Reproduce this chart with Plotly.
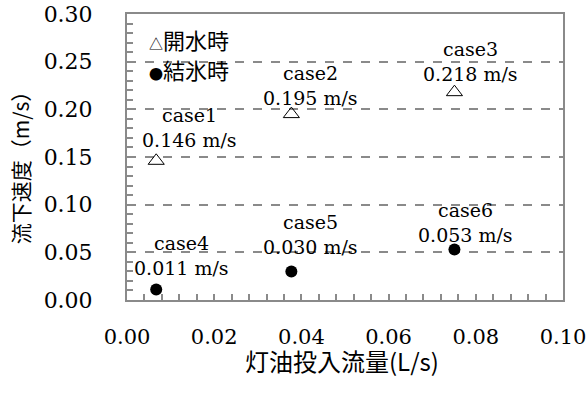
import plotly.graph_objects as go

# data
open_cases = ["case1", "case2", "case3"]
open_x = [0.0067, 0.0377, 0.0751]
open_y = [0.146, 0.195, 0.218]

ice_cases = ["case4", "case5", "case6"]
ice_x = [0.0067, 0.0377, 0.0751]
ice_y = [0.011, 0.030, 0.053]

legend_open = ("△", "開水時")
legend_ice = ("●", "結氷時")
x_title = "灯油投入流量(L/s)"
y_title = "流下速度（m/s）"

x_ticks = [0.00, 0.02, 0.04, 0.06, 0.08, 0.10]
y_ticks = [0.00, 0.05, 0.10, 0.15, 0.20, 0.25, 0.30]

SERIF = "DejaVu Serif"
CJK = "Noto Sans CJK JP"
GRAY = "#8a8a8a"
NB = "\u00a0"

fig = go.Figure()
fig.add_trace(go.Scatter(
    x=open_x, y=open_y, mode="markers", name="開水時",
    marker=dict(symbol="triangle-up-open", size=14, color="black",
                line=dict(width=1, color="black")),
    showlegend=False, hoverinfo="skip"))
fig.add_trace(go.Scatter(
    x=ice_x, y=ice_y, mode="markers", name="結氷時",
    marker=dict(symbol="circle", size=12, color="black"),
    showlegend=False, hoverinfo="skip"))

# label offsets (pixels): x shift, value-line y shift, case-line y shift
open_offsets = [(33, 21, 46), (19, 16, 41), (16, 18, 43)]
ice_offsets = [(25, 22, 47), (19, 24, 49), (11, 14, 39)]

annotations = []
for names, xs, ys, offs in [(open_cases, open_x, open_y, open_offsets),
                            (ice_cases, ice_x, ice_y, ice_offsets)]:
    for n, xv, yv, (dx, dv, dc) in zip(names, xs, ys, offs):
        annotations.append(dict(x=xv, y=yv, xref="x", yref="y", text=n,
                                showarrow=False, xshift=dx, yshift=dc,
                                font=dict(family=SERIF, size=19, color="black")))
        annotations.append(dict(x=xv, y=yv, xref="x", yref="y",
                                text=f"{yv:.3f} m/s",
                                showarrow=False, xshift=dx, yshift=dv,
                                font=dict(family=SERIF, size=19, color="black")))

for (sym, txt), yv in [(legend_open, 0.2735), (legend_ice, 0.2425)]:
    annotations.append(dict(x=0.0045, y=yv, xref="x", yref="y",
                            text=f'<span style="font-size:14px">{sym}</span>{txt}',
                            showarrow=False, xanchor="left",
                            font=dict(family=CJK, size=22, color="black")))

# axis titles
annotations.append(dict(x=0.493, y=-0.212, xref="paper", yref="paper", text=x_title,
                        showarrow=False, xanchor="center", yanchor="middle",
                        font=dict(family=CJK, size=24, color="black")))
annotations.append(dict(x=-0.245, y=0.4825, xref="paper", yref="paper", text=y_title,
                        showarrow=False, xanchor="center", yanchor="middle", textangle=-90,
                        font=dict(family=CJK, size=21, color="black")))

fig.update_layout(
    width=587, height=394,
    margin=dict(l=127, r=24, t=14, b=94),
    paper_bgcolor="white", plot_bgcolor="white",
    annotations=annotations,
    xaxis=dict(
        range=[0, 0.1], tickvals=x_ticks, ticktext=[f"{v:.2f}" for v in x_ticks],
        showgrid=False, zeroline=False, automargin=False,
        showline=True, linecolor=GRAY, linewidth=2, mirror=True,
        ticks="inside", ticklen=6, tickcolor=GRAY, tickwidth=1.5,
        minor=dict(dtick=0.004, ticks="inside", ticklen=6, tickcolor=GRAY, tickwidth=1.5),
        tickfont=dict(family=SERIF, size=21, color="black"),
        ticklabelstandoff=17,
    ),
    yaxis=dict(
        range=[0, 0.3], tickvals=y_ticks, ticktext=[f"{v:.2f}" + NB * 4 for v in y_ticks],
        showgrid=True, gridcolor=GRAY, gridwidth=1.5, griddash="dash",
        zeroline=False, automargin=False,
        showline=True, linecolor=GRAY, linewidth=2, mirror=True,
        ticks="inside", ticklen=6, tickcolor=GRAY, tickwidth=1.5,
        minor=dict(dtick=0.01, ticks="inside", ticklen=6, tickcolor=GRAY, tickwidth=1.5),
        tickfont=dict(family=SERIF, size=22, color="black"),
    ),
)

fig.write_html("out.html", config={"displayModeBar": False},
               post_script="document.body.style.margin='0';")
